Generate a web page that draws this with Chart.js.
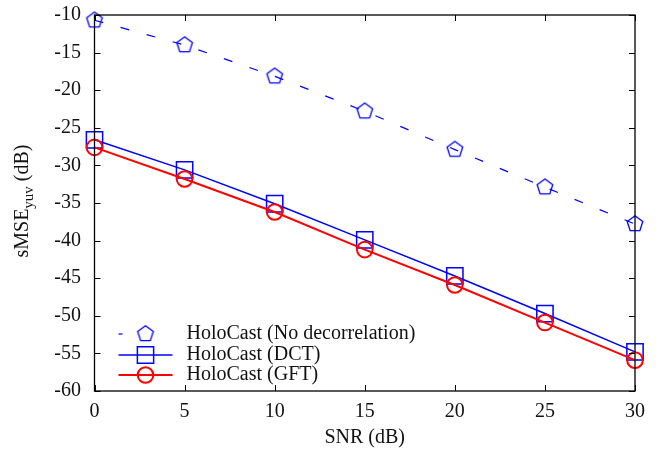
<!DOCTYPE html>
<html lang="en">
<head>
    <meta charset="UTF-8">
    <title>sMSE vs SNR</title>
    <script src="https://cdn.jsdelivr.net/npm/chart.js"></script>
    <style>
        body {
            margin: 0;
            padding: 0;
            background-color: white;
        }
        #wrap {
            width: 667px;
            height: 456px;
        }
    </style>
</head>
<body>
    <div id="wrap"><canvas id="mseChart"></canvas></div>

    <script>
        // SNR points (dB) and sMSE_yuv per method (dB)
        var snrValues = [0, 5, 10, 15, 20, 25, 30];
        var noDecorrelation = [-10.7, -14.0, -18.15, -22.8, -27.9, -32.9, -37.8];
        var dctValues = [-26.6, -30.6, -35.1, -39.9, -44.7, -49.7, -54.8];
        var gftValues = [-27.6, -31.8, -36.2, -41.2, -45.9, -50.9, -55.9];

        var xTickValues = [0, 5, 10, 15, 20, 25, 30];
        var yTickValues = [-60, -55, -50, -45, -40, -35, -30, -25, -20, -15, -10];

        var seriesNames = ['HoloCast (No decorrelation)', 'HoloCast (DCT)', 'HoloCast (GFT)'];

        var serif = '"Liberation Serif", "DejaVu Serif", serif';
        var textColor = '#111';

        function toPoints(ys) {
            return snrValues.map(function (x, i) { return { x: x, y: ys[i] }; });
        }

        // hollow pentagon marker
        function makePentagon(color) {
            var c = document.createElement('canvas');
            c.width = 20;
            c.height = 20;
            var g = c.getContext('2d');
            var R = 8.2;
            g.beginPath();
            for (var k = 0; k < 5; k++) {
                var a = -Math.PI / 2 + k * 2 * Math.PI / 5;
                var px = 10 + R * Math.cos(a);
                var py = 10 + R * Math.sin(a);
                if (k === 0) g.moveTo(px, py); else g.lineTo(px, py);
            }
            g.closePath();
            g.strokeStyle = color;
            g.lineWidth = 1.3;
            g.stroke();
            return c;
        }
        var pentagon = makePentagon('#0000ff');

        // frame and inward ticks on all four sides
        var framePlugin = {
            id: 'frame',
            afterDatasetsDraw: function (chart) {
                var ctx = chart.ctx;
                var a = chart.chartArea;
                var xs = chart.scales.x, ys = chart.scales.y;
                var len = 6;
                ctx.save();
                ctx.strokeStyle = '#000';
                ctx.lineWidth = 1;
                ctx.beginPath();
                xs.ticks.forEach(function (t) {
                    var px = Math.round(xs.getPixelForValue(t.value)) + 0.5;
                    ctx.moveTo(px, a.bottom); ctx.lineTo(px, a.bottom - len);
                    ctx.moveTo(px, a.top); ctx.lineTo(px, a.top + len);
                });
                ys.ticks.forEach(function (t) {
                    var py = Math.round(ys.getPixelForValue(t.value)) + 0.5;
                    ctx.moveTo(a.left, py); ctx.lineTo(a.left + len, py);
                    ctx.moveTo(a.right, py); ctx.lineTo(a.right - len, py);
                });
                ctx.stroke();
                ctx.lineWidth = 1.3;
                ctx.strokeRect(a.left, a.top, a.right - a.left, a.bottom - a.top);
                ctx.restore();
            }
        };

        // y title with subscript
        var yTitlePlugin = {
            id: 'yTitle',
            afterDraw: function (chart) {
                var ctx = chart.ctx;
                var big = '20px ' + serif, small = '15px ' + serif;
                var parts = [['sMSE', big, 0], ['yuv', small, 5], [' (dB)', big, 0]];
                ctx.save();
                var total = 0;
                parts.forEach(function (p) { ctx.font = p[1]; total += ctx.measureText(p[0]).width; });
                ctx.translate(28, 201);
                ctx.rotate(-Math.PI / 2);
                ctx.fillStyle = textColor;
                ctx.textBaseline = 'alphabetic';
                ctx.textAlign = 'left';
                var x = -total / 2;
                parts.forEach(function (p) {
                    ctx.font = p[1];
                    ctx.fillText(p[0], x, p[2]);
                    x += ctx.measureText(p[0]).width;
                });
                ctx.restore();
            }
        };

        // legend in the lower left of the plot
        var legendPlugin = {
            id: 'innerLegend',
            afterDraw: function (chart) {
                var ctx = chart.ctx;
                var a = chart.chartArea;
                var x0 = a.left + 24, x1 = a.left + 78, xm = (x0 + x1) / 2;
                var rows = [334, 355, 375];
                ctx.save();
                chart.data.datasets.forEach(function (ds, i) {
                    var y = rows[i];
                    ctx.strokeStyle = ds.borderColor;
                    ctx.lineWidth = ds.borderWidth;
                    ctx.setLineDash(ds.borderDash ? [4, 100] : []);
                    ctx.beginPath();
                    ctx.moveTo(x0, y);
                    ctx.lineTo(x1, y);
                    ctx.stroke();
                    ctx.setLineDash([]);
                    ctx.fillStyle = 'rgba(0,0,0,0)';
                    ctx.strokeStyle = ds.pointBorderColor;
                    ctx.lineWidth = ds.pointBorderWidth;
                    Chart.helpers.drawPoint(ctx, {
                        pointStyle: ds.pointStyle,
                        radius: ds.pointRadius,
                        borderWidth: ds.pointBorderWidth
                    }, xm, y);
                    ctx.fillStyle = textColor;
                    ctx.font = '20px ' + serif;
                    ctx.textBaseline = 'middle';
                    ctx.textAlign = 'left';
                    ctx.fillText(seriesNames[i], a.left + 92, y);
                });
                ctx.restore();
            }
        };

        var ctx = document.getElementById('mseChart').getContext('2d');
        var mseChart = new Chart(ctx, {
            type: 'line',
            data: {
                datasets: [{
                    label: seriesNames[0],
                    data: toPoints(noDecorrelation),
                    borderColor: '#0000ff',
                    borderWidth: 1.2,
                    borderDash: [9, 18],
                    pointStyle: pentagon,
                    pointRadius: 8,
                    pointBorderWidth: 1.3,
                    pointBackgroundColor: 'transparent',
                    pointBorderColor: '#0000ff',
                    clip: false,
                    order: 2
                }, {
                    label: seriesNames[1],
                    data: toPoints(dctValues),
                    borderColor: '#0000ff',
                    borderWidth: 1.5,
                    pointStyle: 'rect',
                    pointRadius: 11.5,
                    pointBorderWidth: 1.5,
                    pointBackgroundColor: 'transparent',
                    pointBorderColor: '#0000ff',
                    clip: false,
                    order: 1
                }, {
                    label: seriesNames[2],
                    data: toPoints(gftValues),
                    borderColor: '#ff0000',
                    borderWidth: 2,
                    pointStyle: 'circle',
                    pointRadius: 7.8,
                    pointBorderWidth: 2,
                    pointBackgroundColor: 'transparent',
                    pointBorderColor: '#ff0000',
                    clip: false,
                    order: 0
                }]
            },
            options: {
                responsive: true,
                maintainAspectRatio: false,
                animation: false,
                layout: {
                    padding: { top: 15, right: 32, bottom: 6, left: 0 }
                },
                plugins: {
                    legend: { display: false },
                    tooltip: { enabled: false }
                },
                scales: {
                    x: {
                        type: 'linear',
                        min: 0,
                        max: 30,
                        afterBuildTicks: function (s) {
                            s.ticks = xTickValues.map(function (v) { return { value: v }; });
                        },
                        afterFit: function (s) {
                            s.height = 59;
                            s.paddingLeft = 0;
                            s.paddingRight = 0;
                        },
                        grid: { display: false, drawTicks: false },
                        border: { display: false },
                        ticks: {
                            padding: 9,
                            color: textColor,
                            font: { family: serif, size: 20 }
                        },
                        title: {
                            display: true,
                            text: 'SNR (dB)',
                            color: textColor,
                            padding: 0,
                            font: { family: serif, size: 20 }
                        }
                    },
                    y: {
                        type: 'linear',
                        min: -60,
                        max: -10,
                        afterBuildTicks: function (s) {
                            s.ticks = yTickValues.map(function (v) { return { value: v }; });
                        },
                        afterFit: function (s) {
                            s.width = 94.5;
                            s.paddingTop = 0;
                            s.paddingBottom = 0;
                        },
                        grid: { display: false, drawTicks: false },
                        border: { display: false },
                        ticks: {
                            padding: 13.5,
                            color: textColor,
                            font: { family: serif, size: 20 }
                        }
                    }
                }
            },
            plugins: [framePlugin, yTitlePlugin, legendPlugin]
        });
    </script>
</body>
</html>
